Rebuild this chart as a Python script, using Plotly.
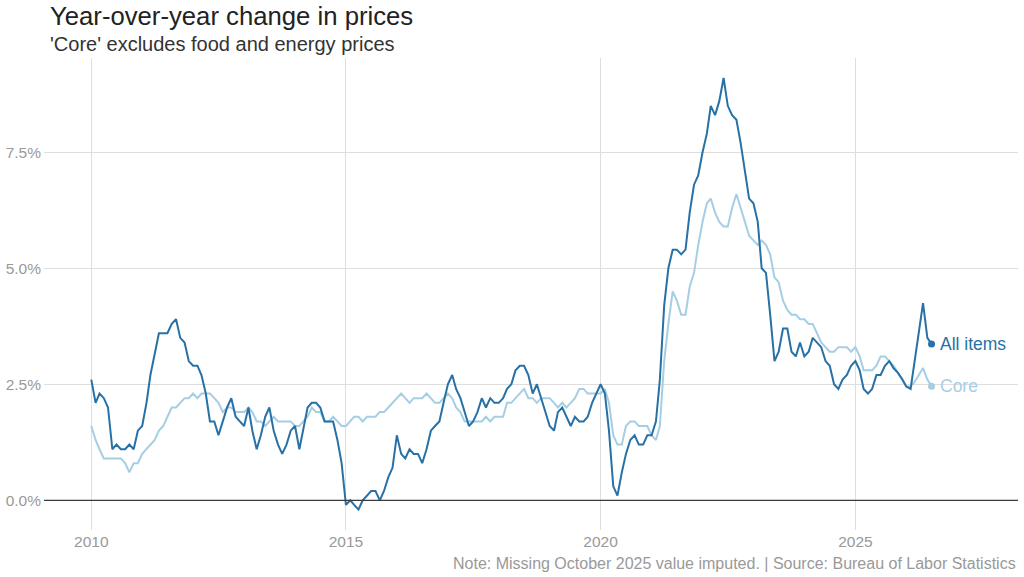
import pandas as pd
import plotly.graph_objects as go

# Monthly year-over-year change (%), Jan 2010 - Jul 2026
start_month = "2010-01-01"

all_items = [
    2.6, 2.1, 2.3, 2.2, 2.0, 1.1, 1.2, 1.1, 1.1, 1.2, 1.1, 1.5,   # 2010
    1.6, 2.1, 2.7, 3.2, 3.6, 3.6, 3.6, 3.8, 3.9, 3.5, 3.4, 3.0,   # 2011
    2.9, 2.9, 2.7, 2.3, 1.7, 1.7, 1.4, 1.7, 2.0, 2.2, 1.8, 1.7,   # 2012
    1.6, 2.0, 1.5, 1.1, 1.4, 1.8, 2.0, 1.5, 1.2, 1.0, 1.2, 1.5,   # 2013
    1.6, 1.1, 1.5, 2.0, 2.1, 2.1, 2.0, 1.7, 1.7, 1.7, 1.3, 0.8,   # 2014
    -0.1, 0.0, -0.1, -0.2, 0.0, 0.1, 0.2, 0.2, 0.0, 0.2, 0.5, 0.7,  # 2015
    1.4, 1.0, 0.9, 1.1, 1.0, 1.0, 0.8, 1.1, 1.5, 1.6, 1.7, 2.1,   # 2016
    2.5, 2.7, 2.4, 2.2, 1.9, 1.6, 1.7, 1.9, 2.2, 2.0, 2.2, 2.1,   # 2017
    2.1, 2.2, 2.4, 2.5, 2.8, 2.9, 2.9, 2.7, 2.3, 2.5, 2.2, 1.9,   # 2018
    1.6, 1.5, 1.9, 2.0, 1.8, 1.6, 1.8, 1.7, 1.7, 1.8, 2.1, 2.3,   # 2019
    2.5, 2.3, 1.5, 0.3, 0.1, 0.6, 1.0, 1.3, 1.4, 1.2, 1.2, 1.4,   # 2020
    1.4, 1.7, 2.6, 4.2, 5.0, 5.4, 5.4, 5.3, 5.4, 6.2, 6.8, 7.0,   # 2021
    7.5, 7.9, 8.5, 8.3, 8.6, 9.1, 8.5, 8.3, 8.2, 7.7, 7.1, 6.5,   # 2022
    6.4, 6.0, 5.0, 4.9, 4.0, 3.0, 3.2, 3.7, 3.7, 3.2, 3.1, 3.4,   # 2023
    3.1, 3.2, 3.5, 3.4, 3.3, 3.0, 2.9, 2.5, 2.4, 2.6, 2.7, 2.9,   # 2024
    3.0, 2.8, 2.4, 2.3, 2.4, 2.7, 2.7, 2.9, 3.0, 2.85, 2.75, 2.62,  # 2025
    2.45, 2.4, 3.0, 3.6, 4.25, 3.5, 3.37,                         # 2026
]

core = [
    1.6, 1.3, 1.1, 0.9, 0.9, 0.9, 0.9, 0.9, 0.8, 0.6, 0.8, 0.8,   # 2010
    1.0, 1.1, 1.2, 1.3, 1.5, 1.6, 1.8, 2.0, 2.0, 2.1, 2.2, 2.2,   # 2011
    2.3, 2.2, 2.3, 2.3, 2.3, 2.2, 2.1, 1.9, 2.0, 2.0, 1.9, 1.9,   # 2012
    1.9, 2.0, 1.9, 1.7, 1.7, 1.6, 1.7, 1.8, 1.7, 1.7, 1.7, 1.7,   # 2013
    1.6, 1.6, 1.7, 1.8, 2.0, 1.9, 1.9, 1.7, 1.7, 1.8, 1.7, 1.6,   # 2014
    1.6, 1.7, 1.8, 1.8, 1.7, 1.8, 1.8, 1.8, 1.9, 1.9, 2.0, 2.1,   # 2015
    2.2, 2.3, 2.2, 2.1, 2.2, 2.2, 2.2, 2.3, 2.2, 2.1, 2.1, 2.2,   # 2016
    2.3, 2.2, 2.0, 1.9, 1.7, 1.7, 1.7, 1.7, 1.7, 1.8, 1.7, 1.8,   # 2017
    1.8, 1.8, 2.1, 2.1, 2.2, 2.3, 2.4, 2.2, 2.2, 2.1, 2.2, 2.2,   # 2018
    2.2, 2.1, 2.0, 2.1, 2.0, 2.1, 2.2, 2.4, 2.4, 2.3, 2.3, 2.3,   # 2019
    2.3, 2.4, 2.1, 1.4, 1.2, 1.2, 1.6, 1.7, 1.7, 1.6, 1.6, 1.6,   # 2020
    1.4, 1.3, 1.6, 3.0, 3.8, 4.5, 4.3, 4.0, 4.0, 4.6, 4.9, 5.5,   # 2021
    6.0, 6.4, 6.5, 6.2, 6.0, 5.9, 5.9, 6.3, 6.6, 6.3, 6.0, 5.7,   # 2022
    5.6, 5.5, 5.6, 5.5, 5.3, 4.8, 4.7, 4.3, 4.1, 4.0, 4.0, 3.9,   # 2023
    3.9, 3.8, 3.8, 3.6, 3.4, 3.3, 3.2, 3.2, 3.3, 3.3, 3.3, 3.2,   # 2024
    3.3, 3.1, 2.8, 2.8, 2.8, 2.9, 3.1, 3.1, 3.0, 2.9, 2.75, 2.6,  # 2025
    2.45, 2.45, 2.55, 2.7, 2.85, 2.6, 2.46,                       # 2026
]

series_names = ["Core", "All items"]
series_colors = {"All items": "#2771a6", "Core": "#a6cee3"}
x_tick_years = [2010, 2015, 2020, 2025]
y_tick_values = [0, 2.5, 5, 7.5]

dates = pd.date_range(start_month, periods=len(all_items), freq="MS")
values = {"All items": all_items, "Core": core}

fig = go.Figure()
for name in series_names:
    fig.add_trace(go.Scatter(
        x=dates, y=values[name], mode="lines", name=name,
        line=dict(color=series_colors[name], width=2),
        hoverinfo="skip",
    ))
for name in series_names:
    fig.add_trace(go.Scatter(
        x=[dates[-1]], y=[values[name][-1]], mode="markers",
        marker=dict(color=series_colors[name], size=7),
        hoverinfo="skip",
    ))
    fig.add_annotation(
        x=dates[-1], y=values[name][-1], xref="x", yref="y",
        text=name, showarrow=False, xanchor="left", yanchor="middle",
        xshift=6, font=dict(size=17.5, color=series_colors[name]),
    )

fig.add_hline(y=0, line=dict(color="#3a3a3a", width=1.2))

fig.update_layout(
    width=1024, height=577,
    margin=dict(l=44, r=6, t=58, b=47),
    paper_bgcolor="white", plot_bgcolor="white",
    showlegend=False,
    font=dict(family="Liberation Sans, Arial, sans-serif", color="#999999"),
    xaxis=dict(
        type="date",
        range=["2009-01-27", "2028-03-12"],
        tickvals=[pd.Timestamp(f"{y}-01-01") for y in x_tick_years],
        ticktext=[str(y) for y in x_tick_years],
        showgrid=True, gridcolor="#dedede", gridwidth=1,
        zeroline=False, showline=False, ticks="",
        tickfont=dict(size=15.5, color="#999999"),
        automargin=False,
    ),
    yaxis=dict(
        range=[-0.64, 9.53],
        tickvals=y_tick_values,
        ticktext=[f"{v:.1f}%" for v in y_tick_values],
        showgrid=True, gridcolor="#dedede", gridwidth=1,
        zeroline=False, showline=False, ticks="",
        tickfont=dict(size=15.5, color="#999999"),
        ticklabelstandoff=2,
        automargin=False,
    ),
)

fig.add_annotation(
    text="Year-over-year change in prices", xref="paper", yref="paper",
    x=0.004, y=1.089, xanchor="left", yanchor="middle", showarrow=False,
    font=dict(size=25.7, color="#222222"),
)
fig.add_annotation(
    text="'Core' excludes food and energy prices", xref="paper", yref="paper",
    x=0.004, y=1.03, xanchor="left", yanchor="middle", showarrow=False,
    font=dict(size=20, color="#333333"),
)
fig.add_annotation(
    text="Note: Missing October 2025 value imputed. | Source: Bureau of Labor Statistics",
    xref="paper", yref="paper", x=1, y=-0.07, xanchor="right", yanchor="middle",
    showarrow=False, font=dict(size=16, color="#999999"),
)

fig.write_html(
    "out.html",
    config={"displayModeBar": False},
    post_script="document.body.style.margin='0';",
)
